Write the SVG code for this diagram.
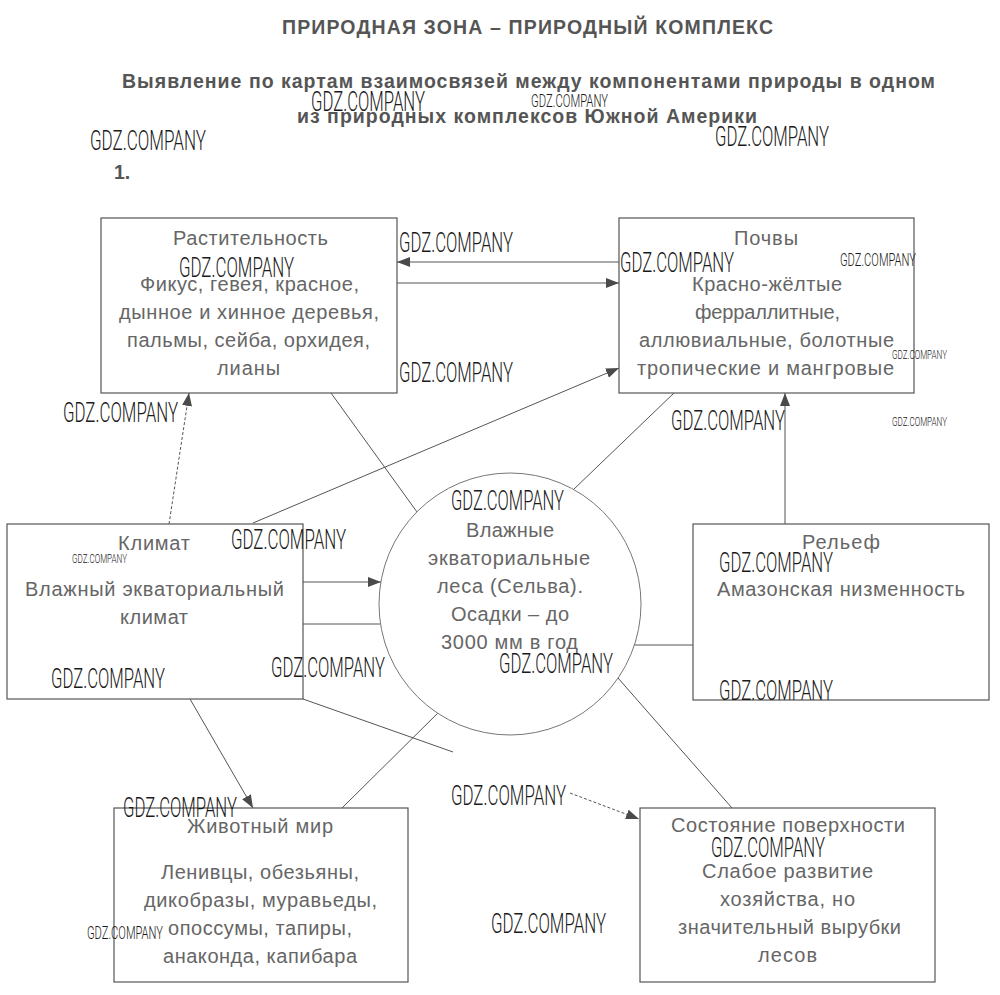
<svg xmlns="http://www.w3.org/2000/svg" width="1000" height="995" viewBox="0 0 1000 995">
<style>
.bg{fill:#fff}
.box{fill:#fff;stroke:#555;stroke-width:1.2}
.circ{fill:#fff;stroke:#777;stroke-width:1}
.t{font-family:"Liberation Sans",Arial,sans-serif;font-size:20px;fill:#666}
.h{font-family:"Liberation Sans",Arial,sans-serif;font-size:19.5px;font-weight:bold;fill:#555}
.ln{fill:none;stroke:#555;stroke-width:1}
.dash{stroke-dasharray:3 2}
.wm{font-family:Roboto,"Liberation Sans",sans-serif;font-weight:300;fill:#1a1a1a}
.wl{font-size:28px}
.ws{font-size:18px}
.wt{font-size:13px}
</style>
<defs>
<marker id="arr" markerUnits="userSpaceOnUse" markerWidth="14" markerHeight="10" refX="13" refY="5" orient="auto">
<path d="M0,0 L13,5 L0,10 z" fill="#4a4a4a"/>
</marker>
</defs>
<rect class="bg" x="0" y="0" width="1000" height="995"/>

<g id="header">
<text class="h" x="282" y="34" textLength="491" lengthAdjust="spacing">ПРИРОДНАЯ ЗОНА – ПРИРОДНЫЙ КОМПЛЕКС</text>
<text class="h" x="122" y="88" textLength="813" lengthAdjust="spacing">Выявление по картам взаимосвязей между компонентами природы в одном</text>
<text class="h" x="297" y="123" textLength="460" lengthAdjust="spacing">из природных комплексов Южной Америки</text>
<text class="h" x="114" y="179">1.</text>
</g>

<g id="connectors">
<line class="ln" x1="619" y1="262" x2="397" y2="262" marker-end="url(#arr)"/>
<line class="ln" x1="397" y1="283" x2="619" y2="283" marker-end="url(#arr)"/>
<line class="ln dash" x1="169" y1="524" x2="189" y2="393" marker-end="url(#arr)"/>
<line class="ln" x1="253" y1="523" x2="619" y2="368" marker-end="url(#arr)"/>
<line class="ln" x1="331" y1="393" x2="417" y2="512"/>
<line class="ln" x1="573" y1="490" x2="674" y2="393"/>
<line class="ln" x1="785" y1="524" x2="785" y2="393" marker-end="url(#arr)"/>
<line class="ln" x1="303" y1="582" x2="381" y2="582" marker-end="url(#arr)"/>
<line class="ln" x1="303" y1="624" x2="380" y2="624"/>
<line class="ln" x1="693" y1="645" x2="634" y2="645"/>
<line class="ln" x1="190" y1="699" x2="253" y2="808" marker-end="url(#arr)"/>
<line class="ln" x1="303" y1="699" x2="453" y2="752"/>
<line class="ln" x1="342" y1="808" x2="444" y2="707"/>
<line class="ln" x1="618" y1="678" x2="732" y2="808"/>
<line class="ln dash" x1="570" y1="793" x2="639" y2="819" marker-end="url(#arr)"/>
</g>

<g id="node-vegetation">
<rect class="box" x="101" y="218" width="296" height="175"/>
<text class="t" x="173" y="245" textLength="155" lengthAdjust="spacing">Растительность</text>
<text class="t" x="140" y="291" textLength="219" lengthAdjust="spacing">Фикус, гевея, красное,</text>
<text class="t" x="119" y="319" textLength="260" lengthAdjust="spacing">дынное и хинное деревья,</text>
<text class="t" x="127" y="347" textLength="243" lengthAdjust="spacing">пальмы, сейба, орхидея,</text>
<text class="t" x="217" y="375" textLength="63" lengthAdjust="spacing">лианы</text>
</g>

<g id="node-soils">
<rect class="box" x="619" y="218" width="295" height="175"/>
<text class="t" x="734" y="245" textLength="64" lengthAdjust="spacing">Почвы</text>
<text class="t" x="692" y="291" textLength="150" lengthAdjust="spacing">Красно-жёлтые</text>
<text class="t" x="695" y="319" textLength="145" lengthAdjust="spacing">ферраллитные,</text>
<text class="t" x="639" y="347" textLength="255" lengthAdjust="spacing">аллювиальные, болотные</text>
<text class="t" x="637" y="375" textLength="257" lengthAdjust="spacing">тропические и мангровые</text>
</g>

<g id="node-climate">
<rect class="box" x="7" y="524" width="296" height="175"/>
<text class="t" x="118" y="550" textLength="72" lengthAdjust="spacing">Климат</text>
<text class="t" x="25" y="596" textLength="259" lengthAdjust="spacing">Влажный экваториальный</text>
<text class="t" x="120" y="624" textLength="68" lengthAdjust="spacing">климат</text>
</g>

<g id="node-forest">
<circle class="circ" cx="510" cy="604" r="131"/>
<text class="t" x="466" y="537" textLength="88" lengthAdjust="spacing">Влажные</text>
<text class="t" x="428" y="565" textLength="162" lengthAdjust="spacing">экваториальные</text>
<text class="t" x="437" y="593" textLength="146" lengthAdjust="spacing">леса (Сельва).</text>
<text class="t" x="451" y="621" textLength="118" lengthAdjust="spacing">Осадки – до</text>
<text class="t" x="441" y="649" textLength="137" lengthAdjust="spacing">3000 мм в год</text>
</g>

<g id="node-relief">
<rect class="box" x="693" y="524" width="296" height="176"/>
<text class="t" x="802" y="549" textLength="78" lengthAdjust="spacing">Рельеф</text>
<text class="t" x="717" y="596" textLength="248" lengthAdjust="spacing">Амазонская низменность</text>
</g>

<g id="node-fauna">
<rect class="box" x="114" y="808" width="294" height="174"/>
<text class="t" x="187" y="833" textLength="146" lengthAdjust="spacing">Животный мир</text>
<text class="t" x="161" y="879" textLength="198" lengthAdjust="spacing">Ленивцы, обезьяны,</text>
<text class="t" x="144" y="907" textLength="233" lengthAdjust="spacing">дикобразы, муравьеды,</text>
<text class="t" x="168" y="935" textLength="184" lengthAdjust="spacing">опоссумы, тапиры,</text>
<text class="t" x="163" y="963" textLength="194" lengthAdjust="spacing">анаконда, капибара</text>
</g>

<g id="node-surface">
<rect class="box" x="640" y="808" width="295" height="174"/>
<text class="t" x="671" y="832" textLength="234" lengthAdjust="spacing">Состояние поверхности</text>
<text class="t" x="702" y="878" textLength="171" lengthAdjust="spacing">Слабое развитие</text>
<text class="t" x="720" y="906" textLength="135" lengthAdjust="spacing">хозяйства, но</text>
<text class="t" x="678" y="934" textLength="223" lengthAdjust="spacing">значительный вырубки</text>
<text class="t" x="758" y="962" textLength="59" lengthAdjust="spacing">лесов</text>
</g>

<g id="watermarks">
<text class="wm wl" x="311" y="111" textLength="114" lengthAdjust="spacingAndGlyphs">GDZ.COMPANY</text>
<text class="wm ws" x="531" y="107" textLength="77" lengthAdjust="spacingAndGlyphs">GDZ.COMPANY</text>
<text class="wm wl" x="90" y="150" textLength="116" lengthAdjust="spacingAndGlyphs">GDZ.COMPANY</text>
<text class="wm wl" x="715" y="146" textLength="114" lengthAdjust="spacingAndGlyphs">GDZ.COMPANY</text>
<text class="wm wl" x="399" y="252" textLength="114" lengthAdjust="spacingAndGlyphs">GDZ.COMPANY</text>
<text class="wm wl" x="179" y="277" textLength="115" lengthAdjust="spacingAndGlyphs">GDZ.COMPANY</text>
<text class="wm wl" x="620" y="272" textLength="114" lengthAdjust="spacingAndGlyphs">GDZ.COMPANY</text>
<text class="wm ws" x="840" y="266" textLength="76" lengthAdjust="spacingAndGlyphs">GDZ.COMPANY</text>
<text class="wm wl" x="399" y="382" textLength="114" lengthAdjust="spacingAndGlyphs">GDZ.COMPANY</text>
<text class="wm wt" x="892" y="359" textLength="55" lengthAdjust="spacingAndGlyphs">GDZ.COMPANY</text>
<text class="wm wl" x="63" y="422" textLength="115" lengthAdjust="spacingAndGlyphs">GDZ.COMPANY</text>
<text class="wm wl" x="671" y="430" textLength="114" lengthAdjust="spacingAndGlyphs">GDZ.COMPANY</text>
<text class="wm wt" x="892" y="426" textLength="55" lengthAdjust="spacingAndGlyphs">GDZ.COMPANY</text>
<text class="wm wl" x="451" y="510" textLength="113" lengthAdjust="spacingAndGlyphs">GDZ.COMPANY</text>
<text class="wm wl" x="231" y="549" textLength="115" lengthAdjust="spacingAndGlyphs">GDZ.COMPANY</text>
<text class="wm wt" x="72" y="563" textLength="55" lengthAdjust="spacingAndGlyphs">GDZ.COMPANY</text>
<text class="wm wl" x="271" y="677" textLength="114" lengthAdjust="spacingAndGlyphs">GDZ.COMPANY</text>
<text class="wm wl" x="499" y="673" textLength="114" lengthAdjust="spacingAndGlyphs">GDZ.COMPANY</text>
<text class="wm wl" x="51" y="688" textLength="114" lengthAdjust="spacingAndGlyphs">GDZ.COMPANY</text>
<text class="wm wl" x="719" y="572" textLength="114" lengthAdjust="spacingAndGlyphs">GDZ.COMPANY</text>
<text class="wm wl" x="719" y="700" textLength="114" lengthAdjust="spacingAndGlyphs">GDZ.COMPANY</text>
<text class="wm wl" x="123" y="817" textLength="114" lengthAdjust="spacingAndGlyphs">GDZ.COMPANY</text>
<text class="wm wl" x="451" y="805" textLength="115" lengthAdjust="spacingAndGlyphs">GDZ.COMPANY</text>
<text class="wm wl" x="711" y="857" textLength="114" lengthAdjust="spacingAndGlyphs">GDZ.COMPANY</text>
<text class="wm ws" x="87" y="939" textLength="76" lengthAdjust="spacingAndGlyphs">GDZ.COMPANY</text>
<text class="wm wl" x="491" y="933" textLength="115" lengthAdjust="spacingAndGlyphs">GDZ.COMPANY</text>
</g>
</svg>
